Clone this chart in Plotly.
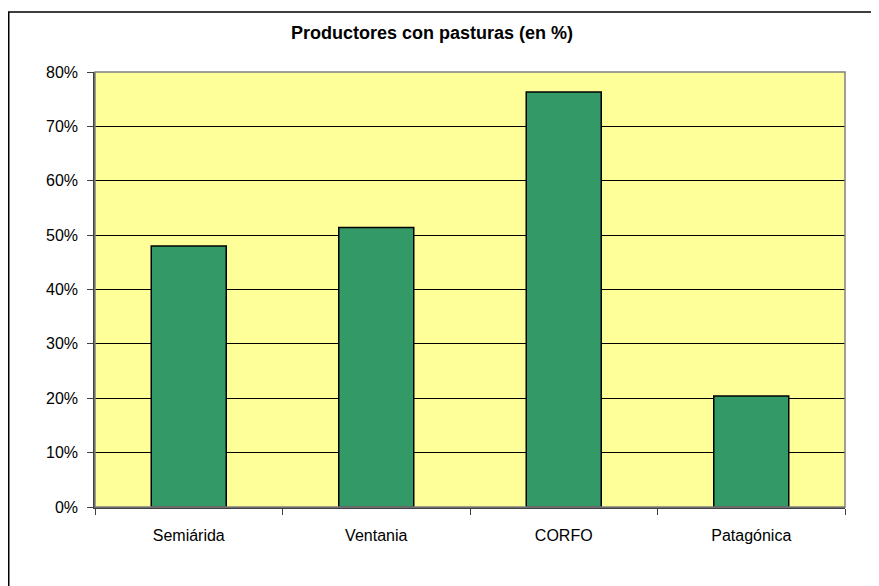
import plotly.graph_objects as go

categories = ["Semiárida", "Ventania", "CORFO", "Patagónica"]
values = [48.0, 51.4, 76.3, 20.4]
tick_vals = [0, 10, 20, 30, 40, 50, 60, 70, 80]
tick_text = ["0%", "10%", "20%", "30%", "40%", "50%", "60%", "70%", "80%"]

# page body adds an 8px offset; figure sized to fit the viewport
OFF = 8
W, H = 879 - OFF, 586 - OFF
L, T = 95 - OFF, 72 - OFF
pw, ph = 750, 435
R, B = W - L - pw, H - T - ph

fig = go.Figure(go.Bar(
    x=categories, y=values,
    marker=dict(color="#339966", line=dict(color="#000000", width=1.5)),
    width=0.4,
))

fig.update_layout(
    width=W, height=H,
    margin=dict(l=L, r=R, t=T, b=B),
    paper_bgcolor="white",
    plot_bgcolor="#FFFF99",
    showlegend=False,
    font=dict(family="Liberation Sans, Arial, sans-serif", size=15, color="#000000"),
    title=dict(
        text="<b>Productores con pasturas (en %)</b>",
        x=(432 - OFF) / W, xanchor="center",
        y=1 - (33 - OFF) / H, yanchor="middle",
        font=dict(size=18, family="Liberation Sans, Arial, sans-serif", color="#000000"),
    ),
)

fig.update_xaxes(
    type="category",
    showline=True, linecolor="#404040", linewidth=1.5,
    ticks="outside", tickson="boundaries", ticklen=6, tickcolor="#404040",
    showgrid=False,
    ticklabelstandoff=13,
    tickfont=dict(size=16),
)
fig.update_yaxes(
    range=[0, 80],
    tickvals=tick_vals, ticktext=tick_text,
    showline=True, linecolor="#404040", linewidth=1.5,
    ticks="outside", ticklen=6, tickcolor="#404040",
    showgrid=True, gridcolor="#000000", gridwidth=1,
    zeroline=False,
    ticklabelstandoff=6,
    tickfont=dict(size=16),
)

# plot area border (top/right gray)
fig.add_shape(type="rect", xref="paper", yref="paper", x0=0, x1=1, y0=0, y1=1,
              line=dict(color="#808080", width=1.5), layer="above")
# outer chart border
fig.add_shape(type="rect", xref="paper", yref="paper",
              x0=(0.75 - L) / pw, x1=(W + 20 - L) / pw,
              y0=-(H + 20 - (T + ph)) / ph, y1=1 + (T - 4) / ph,
              line=dict(color="#000000", width=1.5), layer="below")

fig.write_html("out.html")
